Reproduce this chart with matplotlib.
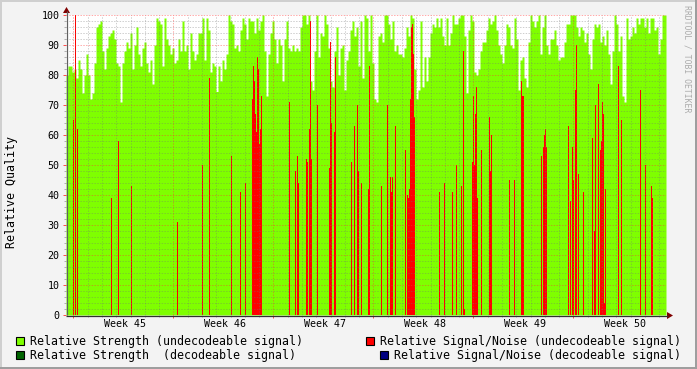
import numpy as np
import matplotlib
matplotlib.use('Agg')
import matplotlib.pyplot as plt
from matplotlib.patches import Rectangle, Polygon

# ---------------- data ----------------
# x unit: days since start of graph (42 days shown); week boundaries fall at 0.52 + 7k
span_days = 42
week_numbers = [45, 46, 47, 48, 49, 50]
week_start_offset = 0.52

# Relative Strength (undecodeable signal), one value per 0.14 day
strength_undecodeable = [
    80, 83, 83, 81, 82, 79, 85, 82, 74, 80, 87, 80, 72, 74, 84, 96, 97, 98, 88, 82,
    89, 93, 94, 95, 92, 84, 83, 71, 84, 88, 91, 89, 94, 82, 90, 96, 87, 83, 89, 91,
    84, 81, 85, 77, 90, 99, 98, 97, 83, 99, 92, 90, 87, 89, 84, 85, 92, 88, 98, 88,
    90, 82, 94, 88, 85, 87, 94, 94, 99, 85, 99, 95, 81, 84, 83, 74.5, 83, 78, 85, 82,
    87, 100, 98, 97, 89, 90, 88, 95, 99, 97, 92, 99, 98, 98, 94, 99, 95, 98, 100, 88,
    73, 87, 94, 98, 92, 84, 92, 90, 78, 92, 98, 89, 88, 90, 88, 89, 88, 96, 100, 100,
    97, 100, 78, 75, 88, 100, 86, 94, 93, 100, 97, 89, 78, 76, 88, 96, 80, 89, 90, 75,
    85, 88, 95, 98, 93, 96, 83, 98, 79, 100, 99, 88, 100, 84, 72, 71, 93, 94, 91, 100,
    100, 97, 92, 98, 88, 90, 87, 87, 86, 89, 96, 93, 100, 99, 82, 72, 75, 98, 76, 86,
    78, 86, 94, 97, 96, 99, 96, 99, 93, 90, 99, 90, 94, 100, 97, 97, 99, 100, 100, 93,
    74, 95, 100, 98, 81, 80, 82, 88, 91, 91, 95, 99, 97, 98, 100, 95, 90, 87, 84, 90,
    97, 96, 90, 89, 99, 92, 75, 85, 86, 79, 76, 91, 100, 98, 96, 98, 100, 87, 96, 100,
    90, 87, 92, 92, 95, 90, 85, 86, 86, 91, 97, 97, 100, 100, 100, 96, 93, 96, 95, 91,
    94, 87, 82, 92, 97, 96, 97, 91, 93, 90, 95, 87, 77, 88, 100, 97, 88, 93, 73, 71,
    99, 92, 93, 96, 94, 99, 97, 99, 99, 96, 99, 94, 99, 99, 95, 96, 87, 92, 100, 100,
]

# Relative Signal/Noise (undecodeable signal): sparse samples (day, value)
snr_undecodeable_day = [
    0.49, 0.63, 0.77, 3.15, 3.64, 4.55, 7.77, 9.52, 10.01, 11.55, 12.18, 12.53,
    13.02, 13.09, 13.16, 13.23, 13.30, 13.37, 13.44, 13.51, 13.58, 13.65,
    15.61, 16.03, 16.17, 16.24, 16.80, 16.87, 17.01, 17.08, 17.15, 17.57,
    18.41, 18.48, 18.55, 18.76, 18.83, 19.95, 20.16, 20.37, 20.44, 20.65,
    21.14, 21.21, 22.05, 22.47, 22.68, 22.75, 22.82, 23.03, 23.73,
    23.87, 23.94, 24.01, 24.08, 24.15, 24.22, 24.29, 24.36,
    26.11, 26.46, 27.02, 27.30, 27.65, 27.79, 27.86,
    28.42, 28.49, 28.56, 28.63, 28.70, 28.77, 29.05, 29.61, 29.68, 29.75,
    31.01, 31.36, 31.85, 31.92, 31.99, 33.25, 33.39, 33.46, 33.53, 33.60,
    35.14, 35.28, 35.42, 35.49, 35.63, 35.70, 35.84, 36.19,
    36.82, 36.96, 37.03, 37.24, 37.38, 37.45, 37.52, 37.59, 37.66, 37.73,
    38.64, 38.85, 40.18, 40.53, 40.95, 41.02,
]
snr_undecodeable_val = [
    65, 100, 62, 39, 58, 43, 31, 50, 79, 53, 41, 44,
    72, 83, 78, 67, 61, 86, 82, 57, 62, 73,
    71, 48, 53, 44, 52, 51, 62, 98, 52, 70,
    49, 91, 64, 61, 86, 51, 63, 70, 48, 44,
    42, 83, 43, 70, 46, 41, 46, 63, 55,
    40, 39, 42, 72, 96, 97, 87, 66,
    41, 44, 41, 50, 43, 88, 2,
    51, 73, 50, 67, 76, 39, 55, 66, 48, 60,
    45, 45, 78, 73, 73, 53, 56, 60, 62, 56,
    63, 38, 56, 45, 75, 90, 47, 41,
    59, 28, 70, 77, 55, 58, 71, 67, 4, 42,
    83, 65, 75, 50, 43, 39,
]

legend_labels = [
    "Relative Strength (undecodeable signal)",
    "Relative Strength  (decodeable signal)",
    "Relative Signal/Noise (undecodeable signal)",
    "Relative Signal/Noise (decodeable signal)",
]
colors = ["#7FFF00", "#006400", "#FF0000", "#000080"]

# ---------------- figure ----------------
MONO = "DejaVu Sans Mono"
W, H = 697, 369
fig = plt.figure(figsize=(W / 100, H / 100), dpi=100, facecolor="#F3F3F3")
L, R, T, B = 66, 666, 15, 315
ax = fig.add_axes([L / W, 1 - B / H, (R - L) / W, (B - T) / H])
ax.set_xlim(0, span_days)
ax.set_ylim(0, 100)
ax.set_facecolor("white")
for s in ax.spines.values():
    s.set_visible(False)

g = np.asarray(strength_undecodeable, dtype=float)
step = span_days / len(g)
edges = np.arange(len(g) + 1) * step
ax.fill_between(edges, np.r_[g, g[-1]], step="post", color=colors[0], lw=0, zorder=1)

px_day = (R - L) / span_days
ax.bar(snr_undecodeable_day, snr_undecodeable_val, width=1.0 / px_day, align="edge",
       color=colors[2], lw=0, zorder=2)

# grid
minor_col = (0.45, 0.45, 0.45, 0.35)
major_col = (1.0, 0.2, 0.2, 0.42)
dot = (0, (1.4, 1.4))
lw1 = 0.72
week_bounds = [week_start_offset + 7 * k for k in range(6)]
days = [week_start_offset + k for k in range(42) if k % 7 != 0]
ax.vlines(days, 0, 100, colors=[minor_col], lw=lw1, linestyles=dot, zorder=3)
ax.vlines(week_bounds, 0, 100, colors=[major_col], lw=lw1, linestyles=dot, zorder=3)
hmin = [v for v in range(2, 101, 2) if v % 10 != 0]
hmaj = list(range(10, 101, 10))
ax.hlines(hmin, 0, span_days, colors=[minor_col], lw=lw1, linestyles=dot, zorder=3)
ax.hlines(hmaj, 0, span_days, colors=[major_col], lw=lw1, linestyles=dot, zorder=3)

# ticks
ax.set_yticks(hmaj + [0])
ax.set_yticklabels([str(v) for v in hmaj] + ["0"], fontfamily=MONO, fontsize=7.2)
ax.set_yticks(hmin, minor=True)
ax.tick_params(axis="y", which="major", length=2.2, width=0.72, color=(1, 0.3, 0.3), pad=2.6)
ax.tick_params(axis="y", which="minor", length=1.5, width=0.72, color="#B0B0B0")
ax.set_xticks(week_bounds)
ax.set_xticklabels([""] * len(week_bounds))
ax.set_xticks(days, minor=True)
ax.tick_params(axis="x", which="major", length=2.2, width=0.72, color=(1, 0.3, 0.3))
ax.tick_params(axis="x", which="minor", length=1.5, width=0.72, color="#B0B0B0")
for k, wk in enumerate(week_numbers):
    ax.text(week_start_offset + 7 * k + 3.6, -0.03, f"Week {wk}", transform=ax.get_xaxis_transform(),
            ha="center", va="center", fontfamily=MONO, fontsize=7.2, color="black")

# overlay in pixel coordinates for frame, axes arrows and legend
ov = fig.add_axes([0, 0, 1, 1], zorder=5)
ov.set_xlim(0, W)
ov.set_ylim(H, 0)
ov.axis("off")
ov.patch.set_alpha(0)
ov.add_patch(Rectangle((0, 0), W, 2, color="#CFCFCF", lw=0))
ov.add_patch(Rectangle((0, 0), 2, H, color="#CFCFCF", lw=0))
ov.add_patch(Rectangle((0, H - 2), W, 2, color="#9E9E9E", lw=0))
ov.add_patch(Rectangle((W - 2, 0), 2, H, color="#9E9E9E", lw=0))

ov.plot([L, 668], [B + 0.5, B + 0.5], color="#303030", lw=0.9, solid_capstyle="butt")
ov.plot([L + 0.5, L + 0.5], [B, 11], color="#606060", lw=0.9, solid_capstyle="butt")
ov.add_patch(Polygon([[667, B - 3], [673, B + 0.5], [667, B + 4]], closed=True, color="#800000", lw=0))
ov.add_patch(Polygon([[L - 3, 13], [L + 0.5, 7], [L + 4, 13]], closed=True, color="#800000", lw=0))

ov.text(12, 192, "Relative Quality", rotation=90, ha="center", va="center",
        fontfamily=MONO, fontsize=8.37, color="black")
ov.text(687, 59, "RRDTOOL / TOBI OETIKER", rotation=270, ha="center", va="center",
        fontfamily=MONO, fontsize=5.9, color="#ABABAB")

legend_pos = [(15, 341, 30), (15, 355, 30), (365, 341, 380), (379, 355, 394)]
for (bx, cy, tx), lab, col in zip(legend_pos, legend_labels, colors):
    ov.add_patch(Rectangle((bx + 0.5, cy - 4), 8, 8, facecolor=col, edgecolor="black", lw=0.8))
    ov.text(tx, cy, lab, ha="left", va="center", fontfamily=MONO, fontsize=8.37, color="black")

fig.savefig("out.png", dpi=100, facecolor=fig.get_facecolor())
